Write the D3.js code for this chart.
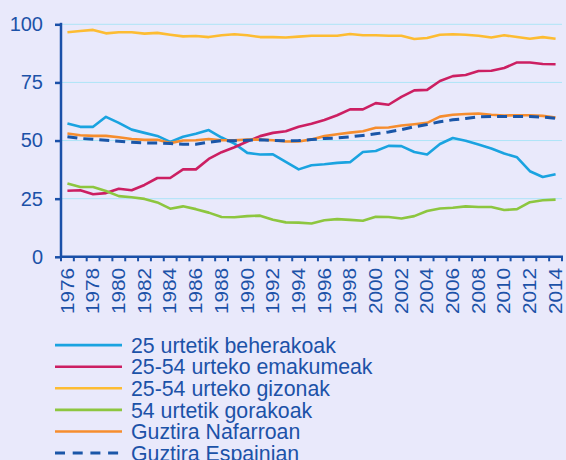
<!DOCTYPE html>
<html>
<head>
<meta charset="utf-8">
<script src="https://cdn.jsdelivr.net/npm/d3@7"></script>
<style>
  html, body { margin: 0; padding: 0; background: #e9e9fb; }
  svg { display: block; font-family: "Liberation Sans", Arial, sans-serif; }
</style>
</head>
<body>
<svg id="chart" width="566" height="460"></svg>
<script>
// Years on the horizontal axis
const years = d3.range(1976, 2015);
const yearLabels = years.filter(y => (y - 1976) % 2 === 0);
const yTicks = [0, 25, 50, 75, 100];

// Series values (%), one per year
const under25 = [57.3,55.9,55.9,60.2,57.6,54.7,53.3,52.0,49.4,51.6,
                 52.9,54.5,51.3,48.7,44.7,44.0,44.1,40.8,37.6,39.4,
                 39.8,40.4,40.7,45.1,45.5,47.7,47.6,45.1,44.0,48.5,
                 51.1,49.9,48.3,46.6,44.4,42.8,36.8,34.3,35.5];
const women2554 = [28.4,28.6,26.9,27.4,29.3,28.6,30.9,33.9,33.9,37.6,
                   37.6,42.1,45.0,47.1,49.6,51.9,53.3,54.0,55.9,57.2,
                   58.8,60.9,63.4,63.4,66.1,65.4,68.8,71.6,71.8,75.6,
                   77.7,78.2,79.9,80.0,81.2,83.6,83.6,82.9,82.8];
const men2554 = [96.6,97.1,97.6,96.1,96.6,96.6,96.0,96.3,95.5,94.8,
                 95.0,94.5,95.3,95.7,95.3,94.5,94.5,94.3,94.7,95.1,
                 95.1,95.1,95.8,95.3,95.3,95.1,95.1,93.7,94.1,95.5,
                 95.7,95.5,95.1,94.3,95.3,94.5,93.8,94.5,93.8];
const over54 = [31.5,30.0,30.0,28.3,26.1,25.6,24.9,23.4,20.7,21.7,
                20.5,19.0,17.1,17.0,17.5,17.7,15.9,14.8,14.7,14.3,
                15.7,16.2,15.9,15.5,17.2,17.1,16.5,17.5,19.7,20.8,
                21.1,21.7,21.4,21.4,20.1,20.5,23.5,24.3,24.6];
const totalNavarra = [53.0,52.3,52.0,52.0,51.4,50.7,50.3,50.3,48.9,50.0,
                      50.1,50.7,50.1,50.1,50.4,50.4,50.1,49.6,49.6,50.5,
                      51.9,52.7,53.4,54.0,55.5,55.6,56.5,57.0,57.6,60.3,
                      61.1,61.4,61.6,61.1,60.8,60.9,60.9,60.6,59.9];
const totalSpain = [51.6,50.9,50.6,50.1,49.7,49.3,49.0,49.0,48.7,48.4,
                    48.4,49.3,49.9,49.9,50.1,50.3,50.1,49.9,50.0,50.4,
                    50.9,51.1,51.6,52.2,52.9,53.7,54.7,55.9,56.9,58.1,
                    58.9,59.5,60.2,60.3,60.3,60.3,60.3,60.1,59.6];

const seriesNames = ["25 urtetik beherakoak", "25-54 urteko emakumeak", "25-54 urteko gizonak",
                     "54 urtetik gorakoak", "Guztira Nafarroan", "Guztira Espainian"];
const seriesValues = [under25, women2554, men2554, over54, totalNavarra, totalSpain];
const seriesColors = ["#1aa3e0", "#cc1f62", "#fdbc32", "#8dc63f", "#f68d2e", "#1a56a8"];
const seriesDash = [null, null, null, null, null, "10,6"];

const axisColor = "#1a50a8";
const textColor = "#1c52a8";
const gridColor = "#ade4f7";

const svg = d3.select("#chart");

const x = d3.scaleBand().domain(years).range([61, 562]).paddingInner(0).paddingOuter(0);
const y = d3.scaleLinear().domain([0, 100]).range([256.8, 24.3]);

// horizontal gridlines
svg.append("g").selectAll("line")
  .data(yTicks.filter(t => t > 0))
  .join("line")
  .attr("x1", x.range()[0]).attr("x2", x.range()[1])
  .attr("y1", d => y(d)).attr("y2", d => y(d))
  .attr("stroke", gridColor).attr("stroke-width", 1);

// y axis
const yAxis = svg.append("g")
  .attr("transform", `translate(${x.range()[0]},0)`)
  .call(d3.axisLeft(y).tickValues(yTicks).tickSize(6).tickPadding(12));
yAxis.select(".domain").attr("stroke", axisColor).attr("stroke-width", 2.5)
  .attr("d", `M0,${y(100) - 1.5}V${y(0) + 1}`);
yAxis.selectAll(".tick line").attr("stroke", axisColor).attr("stroke-width", 2.5);
yAxis.selectAll(".tick text")
  .attr("fill", textColor).attr("font-size", 20)
  .attr("font-family", "Liberation Sans, Arial, sans-serif");

// x axis: tick marks at the category boundaries
const boundaries = years.map(d => x(d)).concat([x(years[years.length - 1]) + x.step()]);
const xAxis = svg.append("g").attr("transform", `translate(0,${y(0)})`);
xAxis.append("line")
  .attr("x1", x.range()[0] - 1).attr("x2", x.range()[1] + 1)
  .attr("stroke", axisColor).attr("stroke-width", 2.5);
xAxis.selectAll("line.tk")
  .data(boundaries)
  .join("line").attr("class", "tk")
  .attr("x1", d => d).attr("x2", d => d)
  .attr("y1", 0).attr("y2", 4.5)
  .attr("stroke", axisColor).attr("stroke-width", 2);

// rotated year labels
xAxis.selectAll("text.yl")
  .data(yearLabels)
  .join("text").attr("class", "yl")
  .attr("transform", d => `translate(${x(d) + x.bandwidth() / 2 + 6.3},11) rotate(-90) scale(1.17,1)`)
  .attr("text-anchor", "end")
  .attr("fill", textColor)
  .attr("font-size", 17.8)
  .text(d => d);

// series lines
const line = d3.line()
  .x((d, i) => x(years[i]) + x.bandwidth() / 2)
  .y(d => y(d));

svg.append("g").selectAll("path")
  .data(seriesValues)
  .join("path")
  .attr("d", d => line(d))
  .attr("fill", "none")
  .attr("stroke", (d, i) => seriesColors[i])
  .attr("stroke-width", (d, i) => i === 5 ? 3 : 2.6)
  .attr("stroke-dasharray", (d, i) => seriesDash[i])
  .attr("stroke-linejoin", "round");

// legend
const legend = svg.append("g");
const rows = legend.selectAll("g")
  .data(seriesNames)
  .join("g")
  .attr("transform", (d, i) => `translate(0,${352.7 + i * 21.6})`);
rows.append("line")
  .attr("x1", 55).attr("x2", 122)
  .attr("y1", -7.6).attr("y2", -7.6)
  .attr("stroke", (d, i) => seriesColors[i])
  .attr("stroke-width", (d, i) => i === 5 ? 3 : 2.6)
  .attr("stroke-dasharray", (d, i) => i === 5 ? "10,7.7" : null);
rows.append("text")
  .attr("x", 131).attr("y", 0)
  .attr("fill", textColor)
  .attr("font-size", 21.3)
  .text(d => d);
</script>
</body>
</html>
